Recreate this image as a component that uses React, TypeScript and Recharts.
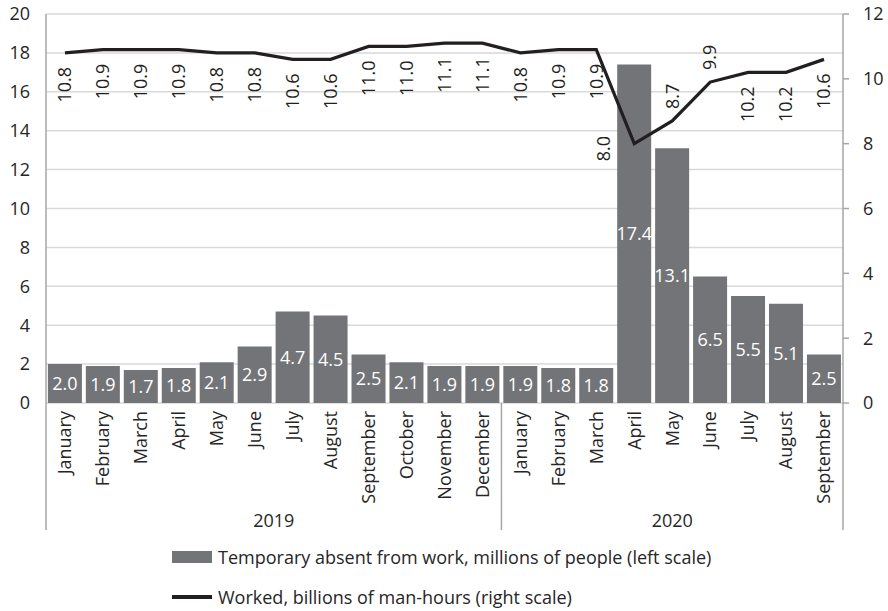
import React from 'react';
import { ComposedChart, Bar, Line, XAxis, YAxis, CartesianGrid, LabelList, Legend } from 'recharts';

const months = [
  'January', 'February', 'March', 'April', 'May', 'June', 'July', 'August', 'September', 'October', 'November', 'December',
  'January', 'February', 'March', 'April', 'May', 'June', 'July', 'August', 'September',
];
const years = [
  '2019', '2019', '2019', '2019', '2019', '2019', '2019', '2019', '2019', '2019', '2019', '2019',
  '2020', '2020', '2020', '2020', '2020', '2020', '2020', '2020', '2020',
];
const absent = [2.0, 1.9, 1.7, 1.8, 2.1, 2.9, 4.7, 4.5, 2.5, 2.1, 1.9, 1.9, 1.9, 1.8, 1.8, 17.4, 13.1, 6.5, 5.5, 5.1, 2.5];
const worked = [10.8, 10.9, 10.9, 10.9, 10.8, 10.8, 10.6, 10.6, 11.0, 11.0, 11.1, 11.1, 10.8, 10.9, 10.9, 8.0, 8.7, 9.9, 10.2, 10.2, 10.6];
const leftTicks = [0, 2, 4, 6, 8, 10, 12, 14, 16, 18, 20];
const rightTicks = [0, 2, 4, 6, 8, 10, 12];

const barName = 'Temporary absent from work, millions of people (left scale)';
const lineName = 'Worked, billions of man-hours (right scale)';

const data = months.map((m, i) => ({
  id: `${years[i]}-${i}`,
  month: m,
  year: years[i],
  absent: absent[i],
  worked: worked[i],
}));

const W = 888;
const H = 611;
const LEFT_W = 46;
const RIGHT_W = 45;
const PLOT_W = W - LEFT_W - RIGHT_W;
const BAND = PLOT_W / data.length;
const FONT = '"Open Sans", sans-serif';
const FS = 18;
const TEXT = '#262626';
const AXIS = '#a6a6a6';
const BAR = '#737478';
const LINE = '#231f20';

const MonthTick = (props: any) => {
  const { x, y, index } = props;
  const d = data[index];
  if (!d) return null;
  const isStart = index === 0 || data[index - 1].year !== d.year;
  const isLast = index === data.length - 1;
  const count = data.filter((r) => r.year === d.year).length;
  const left = x - BAND / 2;
  return (
    <g>
      <text
        x={x}
        y={y}
        dy="0.35em"
        transform={`rotate(-90 ${x} ${y})`}
        textAnchor="end"
        fill={TEXT}
        fontSize={FS}
        fontFamily={FONT}
      >
        {d.month}
      </text>
      {isStart && <line x1={left} x2={left} y1={y - 8} y2={y + 119} stroke={AXIS} strokeWidth={1.5} />}
      {isLast && <line x1={x + BAND / 2} x2={x + BAND / 2} y1={y - 8} y2={y + 119} stroke={AXIS} strokeWidth={1.5} />}
      {isStart && (
        <text x={left + (count * BAND) / 2} y={y + 116} textAnchor="middle" fill={TEXT} fontSize={FS} fontFamily={FONT}>
          {d.year}
        </text>
      )}
    </g>
  );
};

const minWorked = Math.min(...worked);

const LineLabel = (props: any) => {
  const { x, y, value } = props;
  const txt = Number(value).toFixed(1);
  const common = { fill: LINE, fontSize: FS, fontFamily: FONT, dy: '0.35em' };
  if (value === minWorked) {
    const lx = x - 31;
    const ly = y + 5;
    return (
      <text x={lx} y={ly} transform={`rotate(-90 ${lx} ${ly})`} textAnchor="middle" {...common}>
        {txt}
      </text>
    );
  }
  if (value < 10) {
    const ly = y - 12;
    return (
      <text x={x} y={ly} transform={`rotate(-90 ${x} ${ly})`} textAnchor="start" {...common}>
        {txt}
      </text>
    );
  }
  const ly = y + 14;
  return (
    <text x={x} y={ly} transform={`rotate(-90 ${x} ${ly})`} textAnchor="end" {...common}>
      {txt}
    </text>
  );
};

const LegendContent = () => (
  <div style={{ position: 'relative', height: 78, fontFamily: FONT, fontSize: FS, color: TEXT }}>
    <div style={{ position: 'absolute', left: 172, top: 24, transform: 'translateY(-50%)', display: 'flex', alignItems: 'center', whiteSpace: 'nowrap' }}>
      <span style={{ display: 'inline-block', width: 40, height: 12, background: BAR, marginRight: 6 }} />
      <span>{barName}</span>
    </div>
    <div style={{ position: 'absolute', left: 172, top: 64, transform: 'translateY(-50%)', display: 'flex', alignItems: 'center', whiteSpace: 'nowrap' }}>
      <span style={{ display: 'inline-block', width: 40, height: 3.5, background: LINE, marginRight: 6 }} />
      <span>{lineName}</span>
    </div>
  </div>
);

export default function App() {
  return (
    <div style={{ position: 'absolute', left: 0, top: 0, background: '#fff' }}>
      <ComposedChart
        width={W}
        height={H}
        data={data}
        margin={{ top: 14, right: 0, bottom: 0, left: 0 }}
        barCategoryGap="5%"
      >
        <CartesianGrid yAxisId="left" vertical={false} stroke="#d9d9d9" strokeWidth={1.5} />
        <XAxis
          dataKey="id"
          height={130}
          interval={0}
          axisLine={false}
          tickLine={false}
          tick={<MonthTick />}
        />
        <YAxis
          yAxisId="left"
          width={LEFT_W}
          domain={[0, 20]}
          ticks={leftTicks}
          interval={0}
          tickSize={0}
          tickMargin={16}
          axisLine={{ stroke: AXIS, strokeWidth: 1.5 }}
          tickLine={false}
          tick={{ fill: TEXT, fontSize: FS, fontFamily: FONT }}
        />
        <YAxis
          yAxisId="right"
          orientation="right"
          width={RIGHT_W}
          domain={[0, 12]}
          ticks={rightTicks}
          interval={0}
          tickSize={6}
          tickMargin={14}
          axisLine={{ stroke: AXIS, strokeWidth: 1.5 }}
          tickLine={{ stroke: AXIS, strokeWidth: 1.5 }}
          tick={{ fill: TEXT, fontSize: FS, fontFamily: FONT, textAnchor: 'start' }}
        />
        <Bar yAxisId="left" dataKey="absent" name={barName} fill={BAR} isAnimationActive={false}>
          <LabelList dataKey="absent" position="center" fill="#ffffff" fontSize={FS} fontFamily={FONT} formatter={(v: any) => Number(v).toFixed(1)} />
        </Bar>
        <Line
          yAxisId="right"
          dataKey="worked"
          name={lineName}
          stroke={LINE}
          strokeWidth={3.2}
          dot={false}
          activeDot={false}
          isAnimationActive={false}
        >
          <LabelList dataKey="worked" content={<LineLabel />} />
        </Line>
        <Legend verticalAlign="bottom" content={<LegendContent />} />
      </ComposedChart>
    </div>
  );
}
